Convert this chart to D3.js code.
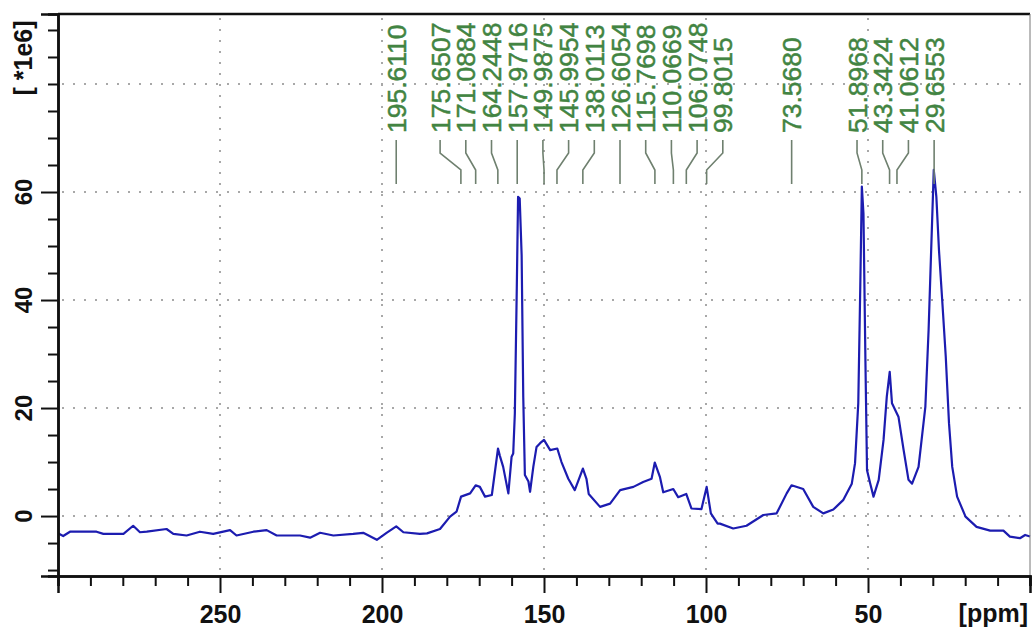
<!DOCTYPE html>
<html>
<head>
<meta charset="utf-8">
<script src="https://cdn.jsdelivr.net/npm/d3@7"></script>
<style>
  body { margin: 0; background: #fff; }
  text { font-family: "Liberation Sans", Arial, sans-serif; }
</style>
</head>
<body>
<svg class="spectrum"></svg>
<script>
const width = 1032;
const height = 627;
const margin = { top: 14, right: 2, bottom: 51, left: 58 };

// chemical shift (ppm) and intensity (*1e6)
const shifts = [
  300.0, 298.4, 296.3, 288.1, 286.0, 279.8, 276.8, 274.7, 272.6, 266.5,
  264.4, 260.3, 256.2, 252.1, 246.9, 244.9, 239.7, 235.6, 232.5, 225.3,
  222.2, 219.1, 215.0, 208.9, 205.8, 201.6, 198.6, 195.6, 193.4, 188.3,
  186.1, 182.1, 179.0, 177.0, 175.6, 172.8, 171.1, 169.8, 168.2, 166.1,
  164.2, 163.6, 162.6, 161.0, 160.0, 159.5, 159.0, 158.4, 158.0, 157.5,
  156.9, 156.4, 155.9, 154.8, 154.3, 153.3, 152.3, 151.2, 150.0, 148.1,
  145.9, 144.6, 142.5, 140.5, 138.0, 136.9, 136.2, 132.7, 129.6, 126.5,
  122.4, 119.4, 116.8, 115.8, 114.2, 113.2, 110.1, 108.6, 106.1, 104.5,
  101.4, 99.8, 98.5, 96.4, 95.7, 91.6, 87.5, 82.3, 78.2, 75.1,
  73.6, 70.0, 66.9, 63.8, 60.7, 57.6, 55.0, 54.0, 53.0, 52.4,
  51.9, 51.4, 50.8, 50.3, 49.3, 48.3, 46.7, 45.2, 44.2, 43.3,
  42.6, 40.6, 39.0, 37.5, 36.4, 34.4, 32.3, 31.3, 30.5, 29.7,
  28.9, 28.1, 27.1, 26.0, 25.0, 24.0, 22.5, 19.9, 16.5, 12.3,
  8.2, 6.2, 3.1, 1.5, 0.0
];
const intensities = [
  -3.2, -3.7, -2.9, -2.9, -3.3, -3.3, -1.8, -3.0, -2.9, -2.4,
  -3.3, -3.6, -2.9, -3.3, -2.6, -3.6, -2.9, -2.6, -3.6, -3.6,
  -4.0, -3.1, -3.6, -3.3, -3.1, -4.4, -3.1, -1.9, -3.0, -3.3,
  -3.2, -2.4, -0.1, 0.8, 3.6, 4.2, 5.7, 5.4, 3.6, 3.9,
  12.5, 11.1, 9.1, 4.2, 11.0, 11.6, 19.0, 42.2, 59.1, 58.8,
  48.3, 22.0, 7.6, 6.4, 4.5, 9.1, 12.8, 13.5, 14.1, 12.2,
  12.5, 10.0, 6.9, 4.8, 8.8, 6.9, 4.1, 1.7, 2.3, 4.8,
  5.4, 6.3, 6.9, 9.9, 7.2, 4.4, 5.0, 3.5, 4.1, 1.4,
  1.3, 5.4, 0.5, -1.4, -1.4, -2.3, -1.8, 0.2, 0.5, 4.2,
  5.7, 5.0, 1.7, 0.5, 1.2, 3.0, 6.0, 9.8, 20.9, 41.9,
  61.0, 56.0, 28.9, 8.5, 6.0, 3.6, 6.7, 14.1, 22.1, 26.7,
  20.9, 18.4, 12.2, 6.7, 6.0, 9.1, 20.2, 34.4, 49.3, 64.1,
  59.1, 49.3, 40.0, 29.5, 17.2, 9.1, 3.6, -0.1, -2.0, -2.7,
  -2.7, -3.8, -4.1, -3.5, -3.8
];

const peakLabels = [
  "195.6110", "175.6507", "171.0884", "164.2448", "157.9716", "149.9875",
  "145.9954", "138.0113", "126.6054", "115.7698", "110.0669", "106.0748",
  "99.8015", "73.5680", "51.8968", "43.3424", "41.0612", "29.6553"
];

const xMajorTicks = [250, 200, 150, 100, 50];
const yMajorTicks = [0, 20, 40, 60];
const yGridTicks = [0, 20, 40, 60, 80];

const svg = d3.select(".spectrum").attr("width", width).attr("height", height);

const x = d3.scaleLinear().domain([300, 0]).range([margin.left, width - margin.right]);
const y = d3.scaleLinear().domain([-11.1, 92.96]).range([height - margin.bottom, margin.top]);

const plotTop = margin.top;
const plotBottom = height - margin.bottom;
const plotLeft = margin.left;
const plotRight = width - margin.right;

// dotted grid
const grid = svg.append("g").attr("stroke", "#a8a8a8").attr("stroke-width", 2)
  .attr("stroke-dasharray", "2 9");
grid.selectAll(".gx").data(xMajorTicks).enter().append("line")
  .attr("x1", (d) => x(d)).attr("x2", (d) => x(d))
  .attr("y1", plotTop + 4).attr("y2", plotBottom);
grid.selectAll(".gy").data(yGridTicks).enter().append("line")
  .attr("x1", plotLeft + 4).attr("x2", plotRight)
  .attr("y1", (d) => y(d)).attr("y2", (d) => y(d));

// spectrum trace
const points = shifts.map((s, i) => [s, intensities[i]]);
const line = d3.line().x((d) => x(d[0])).y((d) => y(d[1]));

svg.append("clipPath").attr("id", "plotclip").append("rect")
  .attr("x", plotLeft).attr("y", plotTop)
  .attr("width", plotRight - plotLeft + 2).attr("height", plotBottom - plotTop);

svg.append("path")
  .datum(points)
  .attr("clip-path", "url(#plotclip)")
  .attr("fill", "none")
  .attr("stroke", "#1c1cb0")
  .attr("stroke-width", 2.2)
  .attr("stroke-linejoin", "round")
  .attr("d", line);

// frame: top black, right thin grey
svg.append("line").attr("x1", plotLeft).attr("x2", plotRight)
  .attr("y1", plotTop).attr("y2", plotTop)
  .attr("stroke", "#111").attr("stroke-width", 2.5);
svg.append("line").attr("x1", plotRight).attr("x2", plotRight)
  .attr("y1", plotTop).attr("y2", plotBottom)
  .attr("stroke", "#777").attr("stroke-width", 1);

// x axis
const xMinor = d3.range(300, -1, -10).filter((d) => !xMajorTicks.includes(d));
const xAxisMinor = svg.append("g")
  .attr("transform", `translate(0,${plotBottom})`)
  .call(d3.axisBottom(x).tickValues(xMinor).tickSize(10).tickFormat(""));
const xAxis = svg.append("g")
  .attr("transform", `translate(0,${plotBottom})`)
  .call(d3.axisBottom(x).tickValues(xMajorTicks).tickSize(17).tickPadding(12).tickFormat(d3.format("d")));

// y axis
const yMinor = d3.range(-10, 91, 5).filter((d) => !yMajorTicks.includes(d));
const yAxisMinor = svg.append("g")
  .attr("transform", `translate(${plotLeft},0)`)
  .call(d3.axisLeft(y).tickValues(yMinor).tickSize(10).tickFormat(""));
const yAxis = svg.append("g")
  .attr("transform", `translate(${plotLeft},0)`)
  .call(d3.axisLeft(y).tickValues(yMajorTicks).tickSize(17).tickFormat(""));

[xAxisMinor, xAxis, yAxisMinor, yAxis].forEach((g) => {
  g.select(".domain").attr("stroke", "#111").attr("stroke-width", 2.5);
  g.selectAll(".tick line").attr("stroke", "#111").attr("stroke-width", 2);
});
xAxis.selectAll(".tick text")
  .attr("fill", "#111")
  .style("font-size", "25px")
  .style("font-weight", "bold");

svg.append("text")
  .attr("x", 1028)
  .attr("y", 622)
  .attr("text-anchor", "end")
  .style("font-size", "25px")
  .style("font-weight", "bold")
  .attr("fill", "#111")
  .text("[ppm]");

// rotated y labels
svg.selectAll(".ylab").data(yMajorTicks).enter().append("text")
  .attr("transform", (d) => `translate(23,${y(d)}) rotate(-90)`)
  .attr("text-anchor", "middle")
  .attr("dy", "0.36em")
  .style("font-size", "24px")
  .style("font-weight", "bold")
  .attr("fill", "#111")
  .text((d) => d);

svg.append("text")
  .attr("transform", `translate(23,58) rotate(-90)`)
  .attr("text-anchor", "middle")
  .attr("dy", "0.36em")
  .style("font-size", "25px")
  .style("font-weight", "bold")
  .attr("fill", "#111")
  .text("[ *1e6]");

// peak labels: spread overlapping ones evenly around their mean position
const gap = 25.7;
const peakX = peakLabels.map((p) => x(+p)).sort((a, b) => a - b);
let groups = peakX.map((px) => ({ xs: [px], center: px }));
let merged = true;
while (merged) {
  merged = false;
  for (let i = 0; i < groups.length - 1; i++) {
    const a = groups[i];
    const b = groups[i + 1];
    const aRight = a.center + ((a.xs.length - 1) * gap) / 2;
    const bLeft = b.center - ((b.xs.length - 1) * gap) / 2;
    if (bLeft - aRight < gap) {
      const all = a.xs.concat(b.xs);
      groups.splice(i, 2, { xs: all, center: d3.mean(all) });
      merged = true;
      break;
    }
  }
}
const labelPos = new Map();
groups.forEach((g) => {
  g.xs.forEach((px, j) => {
    labelPos.set(px, g.center + (j - (g.xs.length - 1) / 2) * gap);
  });
});

const peaks = svg.append("g");
peakLabels.forEach((p) => {
  const px = x(+p);
  const lx = labelPos.get(px);
  const path = Math.abs(lx - px) < 1
    ? `M${lx},140V184`
    : `M${lx},140V153L${px},170V184`;
  peaks.append("path")
    .attr("d", path)
    .attr("fill", "none")
    .attr("stroke", "#6f806f")
    .attr("stroke-width", 1.6);
  peaks.append("text")
    .attr("transform", `translate(${lx},133) rotate(-90)`)
    .attr("dy", "0.36em")
    .style("font-size", "26.5px")
    .attr("fill", "#428442")
    .attr("stroke", "#428442")
    .attr("stroke-width", 0.5)
    .text(p);
});
</script>
</body>
</html>
